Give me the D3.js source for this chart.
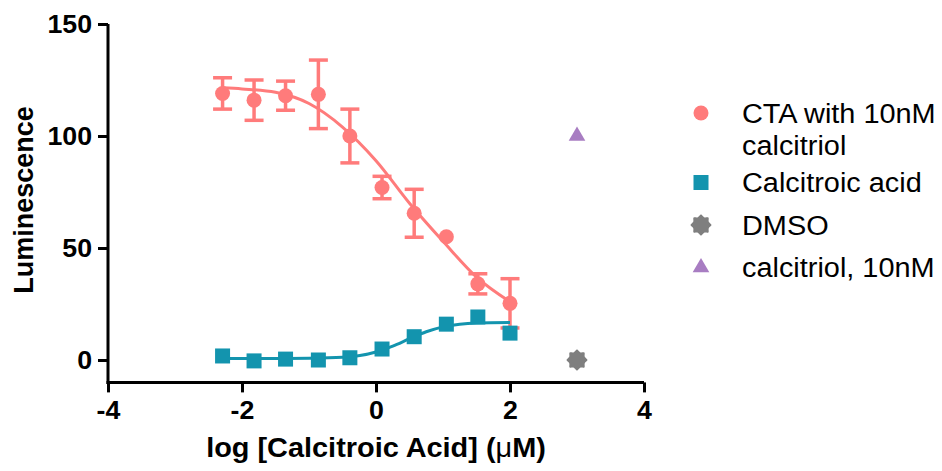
<!DOCTYPE html>
<html>
<head>
<meta charset="utf-8">
<script src="https://cdn.jsdelivr.net/npm/d3@7"></script>
<style>
  html, body { margin: 0; padding: 0; background: #fff; }
  svg { display: block; font-family: "Liberation Sans", Arial, sans-serif; }
</style>
</head>
<body>
<svg id="chart" width="942" height="471"></svg>
<script>
// ---------------- data ----------------
const xTicks = [-4, -2, 0, 2, 4];
const yTicks = [0, 50, 100, 150];

const logConc = [-2.29, -1.82, -1.35, -0.86, -0.39, 0.09, 0.57, 1.05, 1.52, 2.0];
const ctaMean = [119, 116, 118, 118.6, 100, 77, 65.5, 55, 34, 25.3];
const ctaErr  = [7, 9, 6.5, 15.3, 12, 5, 10.7, 0, 4.5, 11];
const acidMean = [1.8, -0.4, 0.4, 0, 1.0, 4.9, 10.4, 16, 19.2, 12];

const ctaFitX = [-2.29, -2.0, -1.5, -1.0, -0.5, 0, 0.5, 1.0, 1.5, 2.0];
const ctaFitY = [121.5, 121, 119.5, 114.5, 104, 89, 70, 53, 37, 26];
const acidFitX = [-2.29, -1.5, -1.0, -0.5, 0, 0.25, 0.5, 0.75, 1.0, 1.25, 1.5, 2.0];
const acidFitY = [0.7, 0.7, 0.8, 1.2, 3.6, 6.2, 9.5, 12.6, 14.8, 16, 16.5, 16.7];

const dmsoX = [3], dmsoY = [0];
const calX = [3], calY = [100];

const legendLabels = [["CTA with 10nM", "calcitriol"], ["Calcitroic acid"], ["DMSO"], ["calcitriol, 10nM"]];
const xTitle = "log [Calcitroic Acid] (";
const yTitle = "Luminescence";

// ---------------- styles ----------------
const RED = "#FF7B7B", TEAL = "#1394AE", GREY = "#7F7F7F", PURPLE = "#A87DC2";
const SX = 1.07; // horizontal text stretch

const svg = d3.select("#chart");
const x = d3.scaleLinear().domain([-4, 4]).range([108, 644]);
const y = d3.scaleLinear().domain([-10, 150]).range([382.4, 24]);

// axes
const fmt = d => String(d);
const yAxis = svg.append("g").attr("transform", `translate(${x(-4)},0)`)
  .call(d3.axisLeft(y).tickValues(yTicks).tickFormat(fmt).tickSize(10).tickSizeOuter(0).tickPadding(6));
const xAxis = svg.append("g").attr("transform", `translate(0,${y(-10)})`)
  .call(d3.axisBottom(x).tickValues(xTicks).tickFormat(fmt).tickSize(10).tickSizeOuter(0).tickPadding(9));
[yAxis, xAxis].forEach(g => {
  g.select(".domain").attr("stroke", "#000").attr("stroke-width", 3);
  g.selectAll(".tick line").attr("stroke", "#000").attr("stroke-width", 3);
  g.selectAll(".tick text").attr("fill", "#000").style("font-size", "25px").style("font-weight", "bold")
    .style("font-family", '"Liberation Sans", Arial, sans-serif');
});
xAxis.selectAll(".tick text").attr("transform", `scale(${SX},1)`);
yAxis.selectAll(".tick text").each(function() {
  const t = d3.select(this);
  const xx = +t.attr("x");
  t.attr("x", xx / SX).attr("transform", `scale(${SX},1)`);
});
// extend domain to the corner
yAxis.select(".domain").attr("d", `M0,${y(150)}V${y(-10) + 1.5}`);
xAxis.select(".domain").attr("d", `M${x(-4) - 1.5},0H${x(4)}`);

// axis titles
svg.append("text")
  .attr("transform", `translate(33,200) rotate(-90)`)
  .attr("text-anchor", "middle")
  .style("font-size", "27px").style("font-weight", "bold")
  .text(yTitle);
const xt = svg.append("text")
  .attr("transform", `translate(${x(0)},457) scale(${SX},1)`)
  .attr("text-anchor", "middle")
  .style("font-size", "27px").style("font-weight", "bold");
xt.append("tspan").text(xTitle);
xt.append("tspan").style("font-weight", "normal").text("\u03bc");
xt.append("tspan").text("M)");

// fit curves
const line = d3.line().x(d => x(d[0])).y(d => y(d[1])).curve(d3.curveMonotoneX);
svg.append("path").datum(d3.zip(ctaFitX, ctaFitY))
  .attr("d", line).attr("fill", "none").attr("stroke", RED).attr("stroke-width", 3);

// red error bars
const ctaData = d3.zip(logConc, ctaMean, ctaErr);
const eb = svg.append("g").attr("stroke", RED).attr("stroke-width", 3.5);
ctaData.filter(d => d[2] > 0).forEach(d => {
  eb.append("line").attr("x1", x(d[0])).attr("x2", x(d[0])).attr("y1", y(d[1] + d[2])).attr("y2", y(d[1] - d[2]));
  [d[1] + d[2], d[1] - d[2]].forEach(v => {
    eb.append("line").attr("x1", x(d[0]) - 9.5).attr("x2", x(d[0]) + 9.5).attr("y1", y(v)).attr("y2", y(v));
  });
});
svg.append("g").selectAll("circle").data(ctaData).join("circle")
  .attr("cx", d => x(d[0])).attr("cy", d => y(d[1])).attr("r", 7.5).attr("fill", RED);

// teal
svg.append("path").datum(d3.zip(acidFitX, acidFitY))
  .attr("d", line).attr("fill", "none").attr("stroke", TEAL).attr("stroke-width", 3);
svg.append("g").selectAll("rect").data(d3.zip(logConc, acidMean)).join("rect")
  .attr("x", d => x(d[0]) - 7.5).attr("y", d => y(d[1]) - 7.5)
  .attr("width", 15).attr("height", 15).attr("fill", TEAL);

// star (cog) shape generator
function cogPath(r) {
  const pts = d3.range(16).map(i => [i * Math.PI / 8, i % 2 === 0 ? r : r * 0.8]);
  return d3.lineRadial().curve(d3.curveCardinalClosed.tension(0))(pts);
}
const triPath = d3.symbol().type(d3.symbolTriangle).size(120)();

svg.append("g").selectAll("path").data(d3.zip(dmsoX, dmsoY)).join("path")
  .attr("transform", d => `translate(${x(d[0])},${y(d[1])})`)
  .attr("d", cogPath(10.5)).attr("fill", GREY);
svg.append("g").selectAll("path").data(d3.zip(calX, calY)).join("path")
  .attr("transform", d => `translate(${x(d[0])},${y(d[1])})`)
  .attr("d", triPath).attr("fill", PURPLE);

// legend
const lg = svg.append("g");
let ly = 113;
const markers = [
  g => g.append("circle").attr("r", 7.5).attr("fill", RED),
  g => g.append("rect").attr("x", -7.5).attr("y", -7.5).attr("width", 15).attr("height", 15).attr("fill", TEAL),
  g => g.append("path").attr("d", cogPath(10.5)).attr("fill", GREY),
  g => g.append("path").attr("d", triPath).attr("fill", PURPLE)
];
legendLabels.forEach((lines, i) => {
  const g = lg.append("g").attr("transform", `translate(701,${ly})`);
  markers[i](g);
  lines.forEach((t, j) => {
    lg.append("text")
      .attr("transform", `translate(742,${ly + 9.5 + j * 32}) scale(${SX},1)`)
      .style("font-size", "27px").attr("fill", "#000").text(t);
  });
  ly += 42.5 + (lines.length - 1) * 27;
});
</script>
</body>
</html>
